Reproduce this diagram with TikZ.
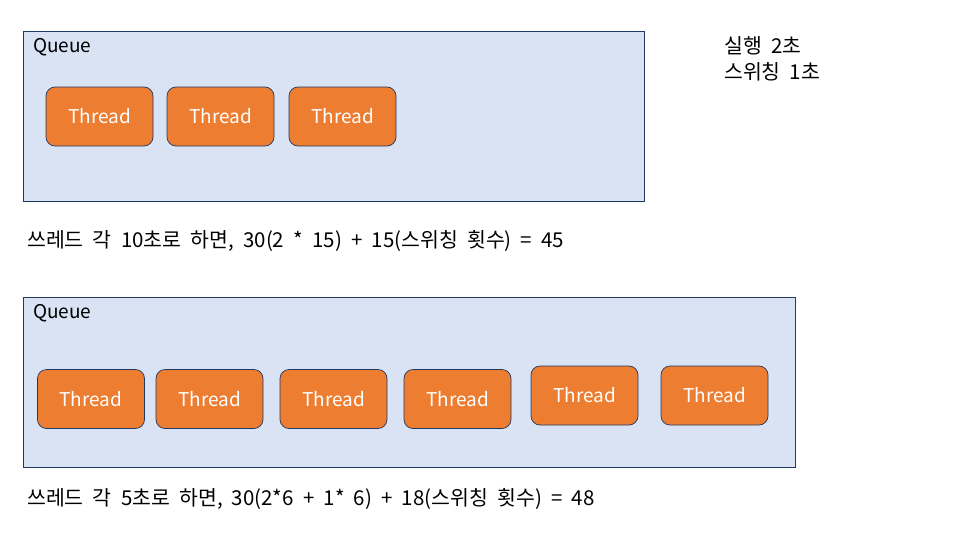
\documentclass[tikz,border=0pt]{standalone}
\usepackage{fontspec}
\setmainfont{Noto Sans CJK KR}
\newfontfamily\widekr[WordSpace=2]{Noto Sans CJK KR}
\usetikzlibrary{positioning}
\definecolor{queuefill}{HTML}{DAE3F3}
\definecolor{threadfill}{HTML}{ED7D31}
\definecolor{edgeblue}{HTML}{203864}

\begin{document}
\begin{tikzpicture}[x=1pt,y=-1pt,
  queue/.style={draw=edgeblue,fill=queuefill,line width=0.8pt},
  thread/.style={draw=edgeblue,fill=threadfill,rounded corners=9pt,line width=0.7pt,
    minimum width=107pt,minimum height=59pt,text=white,font=\fontsize{19}{22}\selectfont},
  label/.style={anchor=west,inner sep=0pt,font=\fontsize{19}{22}\selectfont},
  sum/.style={anchor=west,inner sep=0pt,font=\widekr\fontsize{20.5}{26}\selectfont}]
\useasboundingbox[fill=white] (0,0) rectangle (965,538);
\draw[queue] (23,31) rectangle (644,201);
\node (q1) [label] at (33,47) {Queue};
\node (t1) [thread] at (99.5,116.5) {Thread};
\node (t2) [thread] at (220.5,116.5) {Thread};
\node (t3) [thread] at (342.5,116.5) {Thread};
\node (run) [sum] at (724,46) {실행 2초};
\node (sw) [sum] at (724,72) {스위칭 1초};
\node (calc1) [sum] at (27,241) {쓰레드 각 10초로 하면, 30(2 * 15) + 15(스위칭 횟수) = 45};
\draw[queue] (23,297) rectangle (795,467);
\node (q2) [label] at (33,313) {Queue};
\node (u1) [thread] at (91,399) {Thread};
\node (u2) [thread] at (209.5,399) {Thread};
\node (u3) [thread] at (333.5,399) {Thread};
\node (u4) [thread] at (457.5,399) {Thread};
\node (u5) [thread] at (584.5,395.5) {Thread};
\node (u6) [thread] at (714.5,395.5) {Thread};
\node (calc2) [sum] at (27,499) {쓰레드 각 5초로 하면, 30(2*6 + 1* 6) + 18(스위칭 횟수) = 48};
\end{tikzpicture}
\end{document}
